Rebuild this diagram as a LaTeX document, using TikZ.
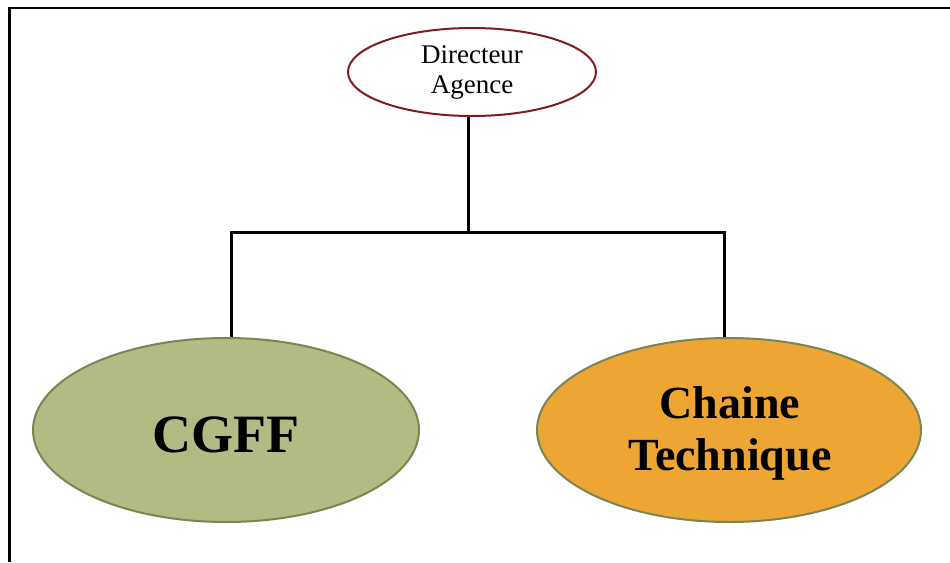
\documentclass[tikz,border=0pt]{standalone}
\usepackage{fontspec}
\setmainfont{Liberation Serif}
\usetikzlibrary{shapes.geometric}
\definecolor{dirline}{RGB}{125,30,30}
\definecolor{cgfffill}{RGB}{179,187,133}
\definecolor{ovalline}{RGB}{122,133,83}
\definecolor{techfill}{RGB}{237,166,52}
\tikzset{
  oval/.style={ellipse, draw=ovalline, line width=2pt, inner sep=0pt},
  link/.style={line width=3pt, black},
  frameline/.style={line width=2.5pt, black},
  label/.style={anchor=base, inner sep=0pt, text=black},
}
\newcommand{\dirfont}{\fontsize{27}{30}\selectfont}
\newcommand{\bigfont}{\fontsize{54}{60}\selectfont\bfseries}
\newcommand{\midfont}{\fontsize{46}{52}\selectfont\bfseries}
\begin{document}
\begin{tikzpicture}[x=1pt,y=-1pt]
  \useasboundingbox[fill=white] (0,0) rectangle (950,562);
  % outer frame (top and left edges)
  \draw[frameline] (950,8) -- (9.5,8) -- (9.5,562);

  % ovals
  \node[ellipse, draw=dirline, line width=2pt, fill=white,
        minimum width=248pt, minimum height=88pt, inner sep=0pt] (dir) at (472,72) {};
  \node[oval, fill=cgfffill, minimum width=386pt, minimum height=184pt] (cgff) at (226,430) {};
  \node[oval, fill=techfill, minimum width=384pt, minimum height=184pt] (tech) at (729,430) {};

  % connectors
  \coordinate (hub) at (468,232);
  \coordinate (barL) at (231,232);
  \coordinate (barR) at (724,232);
  \draw[link] (dir.south -| hub) -- (hub);
  \draw[link] (barL |- cgff.north) -- (barL) -- (barR) -- (barR |- tech.north);

  % labels
  \node[label] (d1) at (472,63) {\dirfont Directeur};
  \node[label] (d2) at (472,93) {\dirfont Agence};

  \node[label] (c1) at (226,452) {\bigfont CGFF};
  \node[label] (t1) at (730,418) {\midfont Chaine};
  \node[label] (t2) at (730,470) {\midfont Technique};
\end{tikzpicture}
\end{document}
